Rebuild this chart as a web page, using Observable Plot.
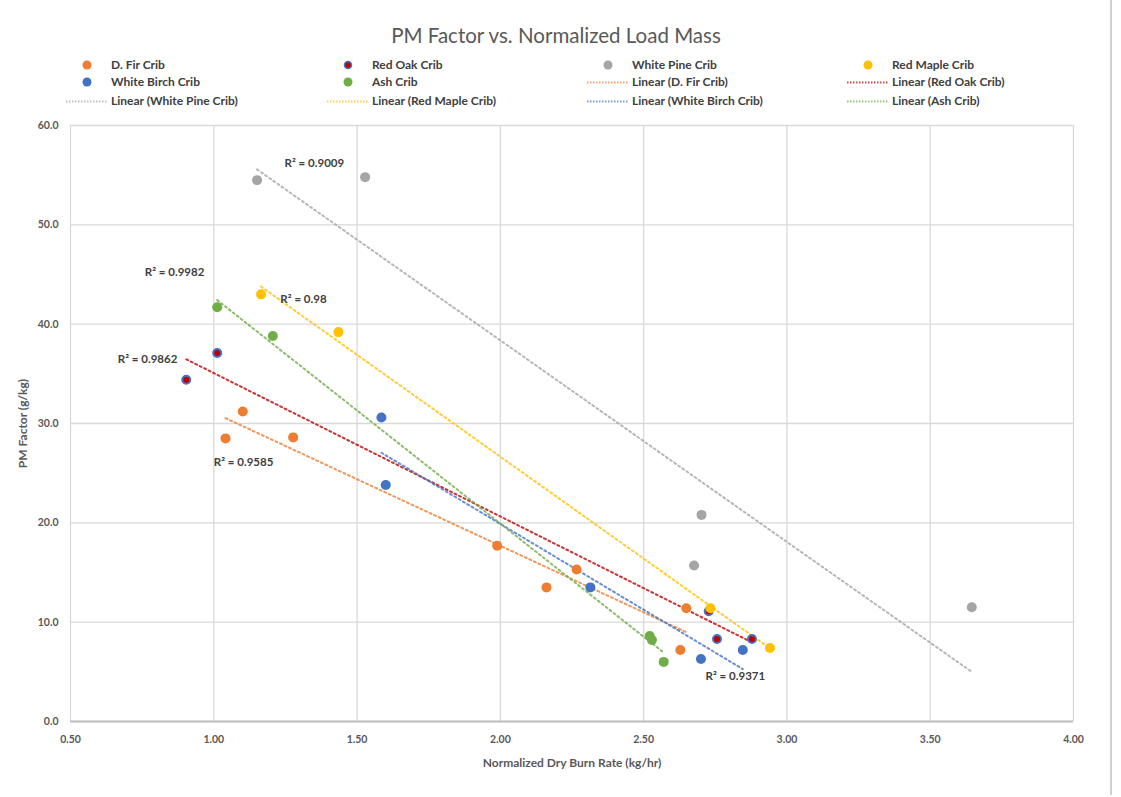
<!DOCTYPE html>
<html>
<head>
<meta charset="utf-8">
<script src="https://cdn.jsdelivr.net/npm/d3@7"></script>
<script src="https://cdn.jsdelivr.net/npm/@observablehq/plot@0.6"></script>
<style>
  html, body { margin: 0; padding: 0; background: #fff; }
  #wrap { position: relative; width: 1121px; height: 797px; overflow: hidden; font-family: Lato, "Open Sans", sans-serif; background: #fff; }
  #frame { position: absolute; left: 0; top: 0; width: 1112px; height: 795px; border-right: 2px solid #d0d0d0; box-sizing: border-box; }
  #title { position: absolute; left: 0; top: 23px; width: 1112px; text-align: center; font-size: 20.5px; color: #595959; }
  .leg { position: absolute; font-size: 12px; font-weight: bold; color: #404040; white-space: nowrap; line-height: 14px; }
  .leg svg { position: absolute; }
  #chart { position: absolute; left: 0; top: 112px; }
  #chart g[aria-label="x-axis label"] text, #chart g[aria-label="y-axis label"] text { font-weight: bold; font-size: 12px; fill: #595959; }
</style>
</head>
<body>
<div id="wrap">
  <div id="frame"></div>
  <div id="title">PM Factor vs. Normalized Load Mass</div>
  <div id="legend"></div>
  <div id="chart"></div>
</div>
<script>
// Series names and colours
const seriesNames = ["D. Fir Crib", "Red Oak Crib", "White Pine Crib", "Red Maple Crib", "White Birch Crib", "Ash Crib"];
const seriesColors = ["#ED7D31", "#C00000", "#A5A5A5", "#FFC000", "#4472C4", "#70AD47"];

// Data (Normalized Dry Burn Rate kg/hr, PM Factor g/kg)
const firX = [1.101, 1.041, 1.277, 1.989, 2.161, 2.266, 2.649, 2.628];
const firY = [31.2, 28.5, 28.6, 17.7, 13.5, 15.3, 11.4, 7.2];
const oakX = [0.904, 1.012, 2.727, 2.756, 2.878];
const oakY = [34.4, 37.1, 11.1, 8.3, 8.3];
const pineX = [1.151, 1.528, 2.702, 2.676, 3.645];
const pineY = [54.5, 54.8, 20.8, 15.7, 11.5];
const mapleX = [1.165, 1.435, 2.733, 2.941];
const mapleY = [43.0, 39.2, 11.4, 7.4];
const birchX = [1.585, 1.600, 2.314, 2.700, 2.846];
const birchY = [30.6, 23.8, 13.5, 6.3, 7.2];
const ashX = [1.012, 1.206, 2.521, 2.529, 2.570];
const ashY = [41.7, 38.8, 8.6, 8.2, 6.0];

// R² annotation labels
const r2Text = ["R² = 0.9009", "R² = 0.9982", "R² = 0.98", "R² = 0.9862", "R² = 0.9585", "R² = 0.9371"];
const r2X = [1.351, 0.863, 1.313, 0.769, 1.104, 2.82];
const r2Y = [56.2, 45.2, 42.55, 36.5, 26.1, 4.5];

// Tick values
const xTicks = [0.5, 1.0, 1.5, 2.0, 2.5, 3.0, 3.5, 4.0];
const yTicks = [0, 10, 20, 30, 40, 50, 60];

const xs = [firX, oakX, pineX, mapleX, birchX, ashX];
const ys = [firY, oakY, pineY, mapleY, birchY, ashY];
const rows = seriesNames.flatMap((s, i) => xs[i].map((x, j) => ({series: s, x, y: ys[i][j], color: seriesColors[i]})));
const r2 = r2Text.map((t, i) => ({t, x: r2X[i], y: r2Y[i]}));

// Legend (HTML)
const legendItems = [
  ...seriesNames.map((s, i) => ({label: s, color: seriesColors[i], kind: "dot", idx: i})),
  ...seriesNames.map((s, i) => ({label: `Linear (${s})`, color: seriesColors[i], kind: "line", idx: i}))
];
const colX = [111, 372, 632, 892];
const rowY = [58, 75, 94];
const leg = document.getElementById("legend");
legendItems.forEach((it, k) => {
  const c = k % 4, r = Math.floor(k / 4);
  const d = document.createElement("div");
  d.className = "leg";
  d.style.left = colX[c] + "px";
  d.style.top = rowY[r] + "px";
  d.textContent = it.label;
  const ns = "http://www.w3.org/2000/svg";
  const sv = document.createElementNS(ns, "svg");
  sv.setAttribute("width", 50); sv.setAttribute("height", 14);
  sv.style.left = "-50px"; sv.style.top = "0px";
  if (it.kind === "dot") {
    const ci = document.createElementNS(ns, "circle");
    ci.setAttribute("cx", 26); ci.setAttribute("cy", 7); ci.setAttribute("r", it.idx === 1 ? 3.5 : 4.5);
    ci.setAttribute("fill", it.color);
    if (it.idx === 1) { ci.setAttribute("stroke", "#4472C4"); ci.setAttribute("stroke-width", 1.5); }
    sv.appendChild(ci);
  } else {
    const ln = document.createElementNS(ns, "line");
    ln.setAttribute("x1", 5); ln.setAttribute("x2", 46); ln.setAttribute("y1", 7.5); ln.setAttribute("y2", 7.5);
    ln.setAttribute("stroke", it.color); ln.setAttribute("stroke-width", 2);
    ln.setAttribute("stroke-dasharray", "1.5,1.5"); ln.setAttribute("opacity", 0.7);
    sv.appendChild(ln);
  }
  d.appendChild(sv);
  leg.appendChild(d);
});

const marks = [
  Plot.gridX(xTicks, {stroke: "#d9d9d9", strokeOpacity: 1, strokeWidth: 1.3}),
  Plot.gridY(yTicks, {stroke: "#d9d9d9", strokeOpacity: 1, strokeWidth: 1.3}),
  Plot.ruleY([0], {stroke: "#bfbfbf", strokeWidth: 2}),
  Plot.axisX({ticks: xTicks, tickSize: 0, tickPadding: 14, tickFormat: d3.format(".2f"), fontWeight: "bold", fontSize: 10.5, color: "#595959",
    label: "Normalized Dry Burn Rate (kg/hr)", labelAnchor: "center", labelArrow: "none", labelOffset: 45}),
  Plot.axisY({ticks: yTicks, tickSize: 0, tickPadding: 12, tickFormat: d3.format(".1f"), fontWeight: "bold", fontSize: 10.5, color: "#595959",
    label: "PM Factor (g/kg)", labelAnchor: "center", labelArrow: "none", labelOffset: 52}),
];
seriesNames.forEach((s, i) => {
  marks.push(Plot.linearRegressionY(rows.filter(d => d.series === s), {x: "x", y: "y", ci: 0, stroke: seriesColors[i], strokeWidth: 2, strokeDasharray: "2,3", strokeOpacity: 0.8}));
});
seriesNames.forEach((s, i) => {
  const dat = rows.filter(d => d.series === s);
  if (i === 1) {
    marks.push(Plot.dot(dat, {x: "x", y: "y", r: 4, fill: seriesColors[i], stroke: "#4472C4", strokeWidth: 2}));
  } else {
    marks.push(Plot.dot(dat, {x: "x", y: "y", r: 5, fill: seriesColors[i]}));
  }
});
marks.push(Plot.text(r2, {x: "x", y: "y", text: "t", fontSize: 11.5, fontWeight: "bold", fill: "#404040"}));

const chart = Plot.plot({
  width: 1121,
  height: 685,
  marginTop: 13,
  marginBottom: 76,
  marginLeft: 70,
  marginRight: 48,
  x: {domain: [0.5, 4.0]},
  y: {domain: [0, 60]},
  style: {fontFamily: "Lato, 'Open Sans', sans-serif", background: "transparent", color: "#595959"},
  marks
});
document.getElementById("chart").appendChild(chart);
</script>
</body>
</html>
